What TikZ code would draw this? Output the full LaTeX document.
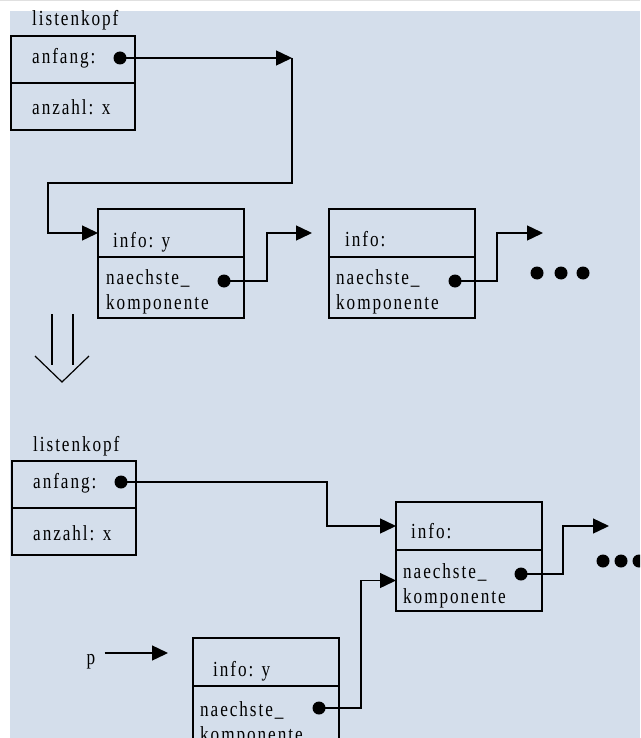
\documentclass[tikz,border=0pt]{standalone}
\usepackage{fontspec}
\setmainfont[LetterSpace=9, FakeStretch=0.8]{Liberation Serif}
\usepackage{xcolor}
\usetikzlibrary{positioning, calc, arrows.meta}
\definecolor{hintergrund}{RGB}{212,222,235}

\begin{document}
\begin{tikzpicture}[x=1pt, y=-1pt,
	feld/.style={draw, line width=1.4pt, inner sep=0pt, outer sep=0pt, anchor=north west},
	kopffeld/.style={feld, minimum width=124pt, minimum height=47pt},
	infofeld/.style={feld, minimum width=146pt, minimum height=48pt},
	nextfeld/.style={feld, minimum width=146pt, minimum height=61pt},
	beschr/.style={inner sep=0pt, anchor=base west, font=\fontsize{21.5}{25}\selectfont},
	zweizeilig/.style={beschr, anchor=north west, align=left},
	punkt/.style={circle, fill=black, inner sep=0pt, minimum size=13pt},
	zeiger/.style={line width=1.4pt, -{Triangle[length=16pt,width=15pt]}}]
		\useasboundingbox (0,0) rectangle (640,738);
		\clip (0,0) rectangle (640,738);
		\fill[hintergrund] (10,11) rectangle (640,738);
		\draw[black!12, line width=1pt] (0,0.5) -- (640,0.5);
		
		\node[beschr] (kopf1) at (32,26) {listenkopf};
		\node[kopffeld] (anf1) at (11,36) {};
		\node[kopffeld, below=0pt of anf1] (anz1) {};
		\node[beschr] (tanf1) at ($(anf1.north west)+(21,28)$) {anfang:};
		\node[beschr] (tanz1) at ($(anz1.north west)+(21,32)$) {anzahl: x};
		\node[punkt] (p1) at (120,58) {};
		
		\node[infofeld] (info1) at (98,209) {};
		\node[nextfeld, below=0pt of info1] (next1) {};
		\node[beschr] (tinfo1) at ($(info1.north west)+(15,38)$) {info: y};
		\node[zweizeilig] (tnext1) at ($(next1.north west)+(8,12)$) {naechste\_\\komponente};
		\node[punkt] (p2) at (224,281) {};
		
		\node[infofeld] (info2) at (329,209) {};
		\node[nextfeld, below=0pt of info2] (next2) {};
		\node[beschr] (tinfo2) at ($(info2.north west)+(16,37)$) {info:};
		\node[zweizeilig] (tnext2) at ($(next2.north west)+(7,12)$) {naechste\_\\komponente};
		\node[punkt] (p3) at (455,281) {};
		
		\node[punkt] (e1) at (537,273) {};
		\node[punkt] (e2) at (561,273) {};
		\node[punkt] (e3) at (583,273) {};
		
		\coordinate (knick1) at (292,58);
		\coordinate (ecke1) at (48,183);
		\coordinate (ende1) at (312,233);
		\coordinate (ende2) at (543,233);
		\draw[zeiger] (p1.center) -- (knick1);
		\draw[zeiger] (knick1) |- (ecke1) |- (info1.west);
		\draw[zeiger] (p2.center) -- ++(43,0) |- (ende1);
		\draw[zeiger] (p3.center) -- ++(42,0) |- (ende2);
		
		\draw[line width=1.2pt] (52,314) -- (52,365) (73,314) -- (73,365);
		\draw[line width=1.2pt] (35,356) -- (62,382) -- (89,356);
		
		\node[beschr] (kopf2) at (33,451) {listenkopf};
		\node[kopffeld] (anf2) at (12,461) {};
		\node[kopffeld, below=0pt of anf2] (anz2) {};
		\node[beschr] (tanf2) at ($(anf2.north west)+(21,27)$) {anfang:};
		\node[beschr] (tanz2) at ($(anz2.north west)+(21,32)$) {anzahl: x};
		\node[punkt] (p4) at (121,482) {};
		
		\node[infofeld] (info3) at (396,502) {};
		\node[nextfeld, below=0pt of info3] (next3) {};
		\node[beschr] (tinfo3) at ($(info3.north west)+(15,36)$) {info:};
		\node[zweizeilig] (tnext3) at ($(next3.north west)+(7,13)$) {naechste\_\\komponente};
		\node[punkt] (p5) at (521,574) {};
		
		\node[infofeld] (info4) at (193,638) {};
		\node[nextfeld, below=0pt of info4] (next4) {};
		\node[beschr] (tinfo4) at ($(info4.north west)+(20,38)$) {info: y};
		\node[zweizeilig] (tnext4) at ($(next4.north west)+(7,15)$) {naechste\_\\komponente};
		\node[punkt] (p6) at (319,708) {};
		
		\node[punkt] (e4) at (603,561) {};
		\node[punkt] (e5) at (621,561) {};
		\node[punkt] (e6) at (639,561) {};
		
		\node[beschr, anchor=base] (pzeiger) at (91,664) {p};
		\coordinate (ende3) at (609,526);
		\coordinate (pende) at (168,653);
		\draw[zeiger] (p4.center) -- ++(206,0) |- (info3.west);
		\draw[zeiger] (p5.center) -- ++(42,0) |- (ende3);
		\draw[zeiger] (p6.center) -- ++(42,0) |- (next3.west);
		\draw[zeiger] ($(pzeiger.east |- pende)+(9,0)$) -- (pende);
		
	\end{tikzpicture}
\end{document}
